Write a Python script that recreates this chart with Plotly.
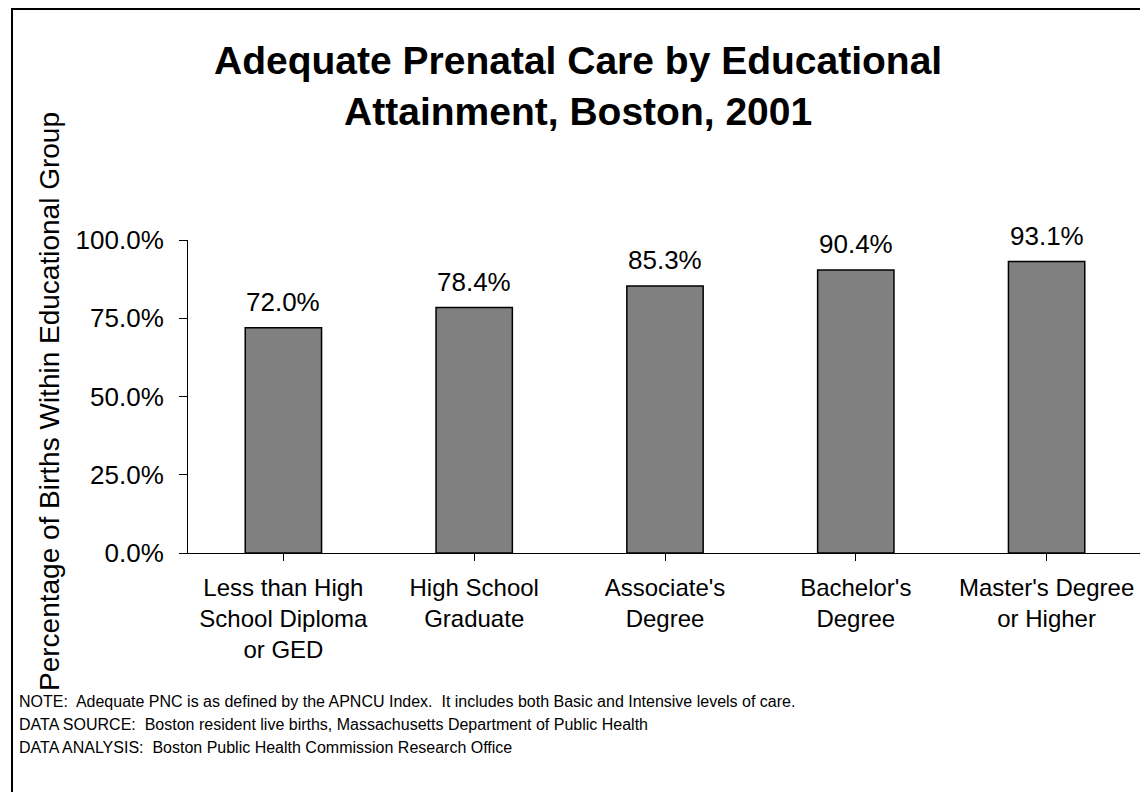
import plotly.graph_objects as go

categories = ["Less than High<br>School Diploma<br>or GED", "High School<br>Graduate",
              "Associate's<br>Degree", "Bachelor's<br>Degree", "Master's Degree<br>or Higher"]
values = [72.0, 78.4, 85.3, 90.4, 93.1]
y_ticks = [0, 25, 50, 75, 100]
y_tick_labels = ["0.0%", "25.0%", "50.0%", "75.0%", "100.0%"]
title_text = "<b>Adequate Prenatal Care by Educational<br>Attainment, Boston, 2001</b>"
y_title = "Percentage of Births Within Educational Group"
notes = [
    "NOTE:  Adequate PNC is as defined by the APNCU Index.  It includes both Basic and Intensive levels of care.",
    "DATA SOURCE:  Boston resident live births, Massachusetts Department of Public Health",
    "DATA ANALYSIS:  Boston Public Health Commission Research Office",
]

OFF = 8  # page body margin
W, H = 1148 - OFF, 792 - OFF
L, R, T, B = 188 - OFF, 1142 - OFF, 240 - OFF, 553 - OFF  # plot area in figure pixels

def px(x):
    return (x - OFF - L) / (R - L)

def py(y):
    return (B - (y - OFF)) / (B - T)

FONT = "Liberation Sans, Arial, sans-serif"

fig = go.Figure()
fig.add_trace(go.Bar(
    x=list(range(len(categories))), y=values,
    marker=dict(color="#808080", line=dict(color="black", width=1.5)),
    hoverinfo="skip",
))

annotations = []
for i, v in enumerate(values):
    annotations.append(dict(
        x=i, y=v, xref="x", yref="y", text=f"{v:.1f}%", showarrow=False,
        yanchor="bottom", yshift=9, font=dict(size=26, color="black", family=FONT),
    ))

annotations.append(dict(
    x=px(578), y=py(86), xref="paper", yref="paper", text=title_text, showarrow=False,
    xanchor="center", yanchor="middle", font=dict(size=39, color="black", family=FONT),
))
annotations.append(dict(
    x=px(49), y=py(402), xref="paper", yref="paper", text=y_title, showarrow=False,
    textangle=-90, xanchor="center", yanchor="middle",
    font=dict(size=28, color="black", family=FONT),
))
for k, note in enumerate(notes):
    annotations.append(dict(
        x=px(17), y=py(701 + 23 * k), xref="paper", yref="paper", text=note, showarrow=False,
        xanchor="left", yanchor="middle", font=dict(size=16, color="black", family=FONT),
    ))

fig.update_layout(
    width=W, height=H,
    margin=dict(l=L, r=W - R, t=T, b=H - B, pad=0),
    paper_bgcolor="white", plot_bgcolor="white",
    bargap=0.6, showlegend=False,
    font=dict(family=FONT, color="black"),
    annotations=annotations,
    shapes=[dict(type="rect", xref="paper", yref="paper",
                 x0=px(12), y0=py(820), x1=px(1180), y1=py(9),
                 line=dict(color="black", width=2), fillcolor="rgba(0,0,0,0)")],
)
fig.update_xaxes(
    range=[-0.5, len(categories) - 0.5],
    tickmode="array", tickvals=list(range(len(categories))), ticktext=categories,
    tickson="boundaries", ticks="outside", ticklen=7, tickcolor="black", tickwidth=1,
    showline=True, linecolor="black", linewidth=1, showgrid=False, zeroline=False,
    tickfont=dict(size=24, color="black", family=FONT), ticklabelstandoff=6,
)
fig.update_yaxes(
    range=[0, 100], tickmode="array", tickvals=y_ticks, ticktext=y_tick_labels,
    ticks="outside", ticklen=8, tickcolor="black", tickwidth=1,
    showline=True, linecolor="black", linewidth=1, showgrid=False, zeroline=False,
    tickfont=dict(size=26, color="black", family=FONT), ticklabelstandoff=10,
)
fig.write_html("out.html")
